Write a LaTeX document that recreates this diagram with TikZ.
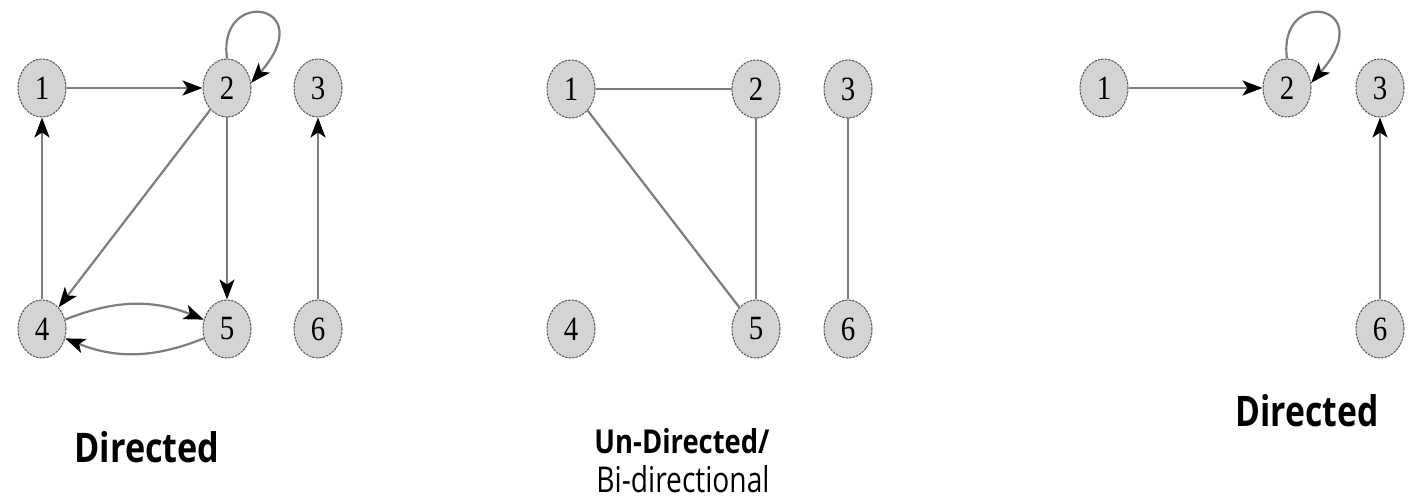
\documentclass[tikz,border=0pt]{standalone}
\usepackage{fontspec}
\setmainfont{Liberation Serif}
\newfontfamily\labelfont{Open Sans}
\usetikzlibrary{shapes.geometric,arrows.meta}
\definecolor{nodefill}{RGB}{212,212,212}
\definecolor{nodeline}{RGB}{85,85,85}
\definecolor{edgecol}{RGB}{125,125,125}
\tikzset{
  vtx/.style={ellipse, minimum width=48pt, minimum height=58pt, inner sep=0pt,
    fill=nodefill, draw=nodeline, line width=1pt, dash pattern=on 2.5pt off 1pt,
    font=\fontsize{34}{36}\selectfont},
  edge/.style={draw=edgecol, line width=2.2pt},
  arc/.style={edge, -{Stealth[length=20pt,width=15pt,inset=5pt,black]}},
  lbl/.style={inner sep=0pt, anchor=base}
}
\begin{document}
\begin{tikzpicture}[x=1pt,y=-1pt]
\useasboundingbox (0,0) rectangle (1422,502);
\fill[white] (0,0) rectangle (1422,502);
% Graph 1 (directed)
\node[vtx] (a1) at (42,88) {\scalebox{0.85}[1]{1}};
\node[vtx] (a2) at (227,88) {\scalebox{0.85}[1]{2}};
\node[vtx] (a3) at (318,88) {\scalebox{0.85}[1]{3}};
\node[vtx] (a4) at (42,329) {\scalebox{0.85}[1]{4}};
\node[vtx] (a5) at (227,329) {\scalebox{0.85}[1]{5}};
\node[vtx] (a6) at (318,329) {\scalebox{0.85}[1]{6}};
\draw[arc] (a1) -- (a2);
\draw[arc] (a4) -- (a1);
\draw[arc] (a2) -- (a4);
\draw[arc] (a2) -- (a5);
\draw[arc] (a6) -- (a3);
\draw[arc] (a4) to[bend left=22] (a5);
\draw[arc] (a5) to[bend left=22] (a4);
\draw[arc] (a2.north) .. controls +(-10,-72) and +(70,-80) .. (a2.12);
% Graph 2 (undirected)
\node[vtx] (b1) at (571,89) {\scalebox{0.85}[1]{1}};
\node[vtx] (b2) at (756,89) {\scalebox{0.85}[1]{2}};
\node[vtx] (b3) at (848,89) {\scalebox{0.85}[1]{3}};
\node[vtx] (b4) at (571,329) {\scalebox{0.85}[1]{4}};
\node[vtx] (b5) at (756,329) {\scalebox{0.85}[1]{5}};
\node[vtx] (b6) at (848,329) {\scalebox{0.85}[1]{6}};
\draw[edge] (b1) -- (b2);
\draw[edge] (b1) -- (b5);
\draw[edge] (b2) -- (b5);
\draw[edge] (b3) -- (b6);
% Graph 3 (directed)
\node[vtx] (c1) at (1104,88) {\scalebox{0.85}[1]{1}};
\node[vtx] (c2) at (1287,88) {\scalebox{0.85}[1]{2}};
\node[vtx] (c3) at (1380,88) {\scalebox{0.85}[1]{3}};
\node[vtx] (c6) at (1380,329) {\scalebox{0.85}[1]{6}};
\draw[arc] (c1) -- (c2);
\draw[arc] (c6) -- (c3);
\draw[arc] (c2.north) .. controls +(-10,-72) and +(70,-80) .. (c2.12);
% Labels
\node[lbl] (l1) at (147,463) {\resizebox{145pt}{31pt}{\labelfont\bfseries Directed}};
\node[lbl] (l2) at (682,453) {\resizebox{175pt}{25pt}{\labelfont\bfseries Un-Directed/}};
\node[lbl] (l3) at (683,492) {\resizebox{173pt}{27pt}{\labelfont Bi-directional}};
\node[lbl] (l4) at (1307,427) {\resizebox{143pt}{32pt}{\labelfont\bfseries Directed}};
\end{tikzpicture}
\end{document}
